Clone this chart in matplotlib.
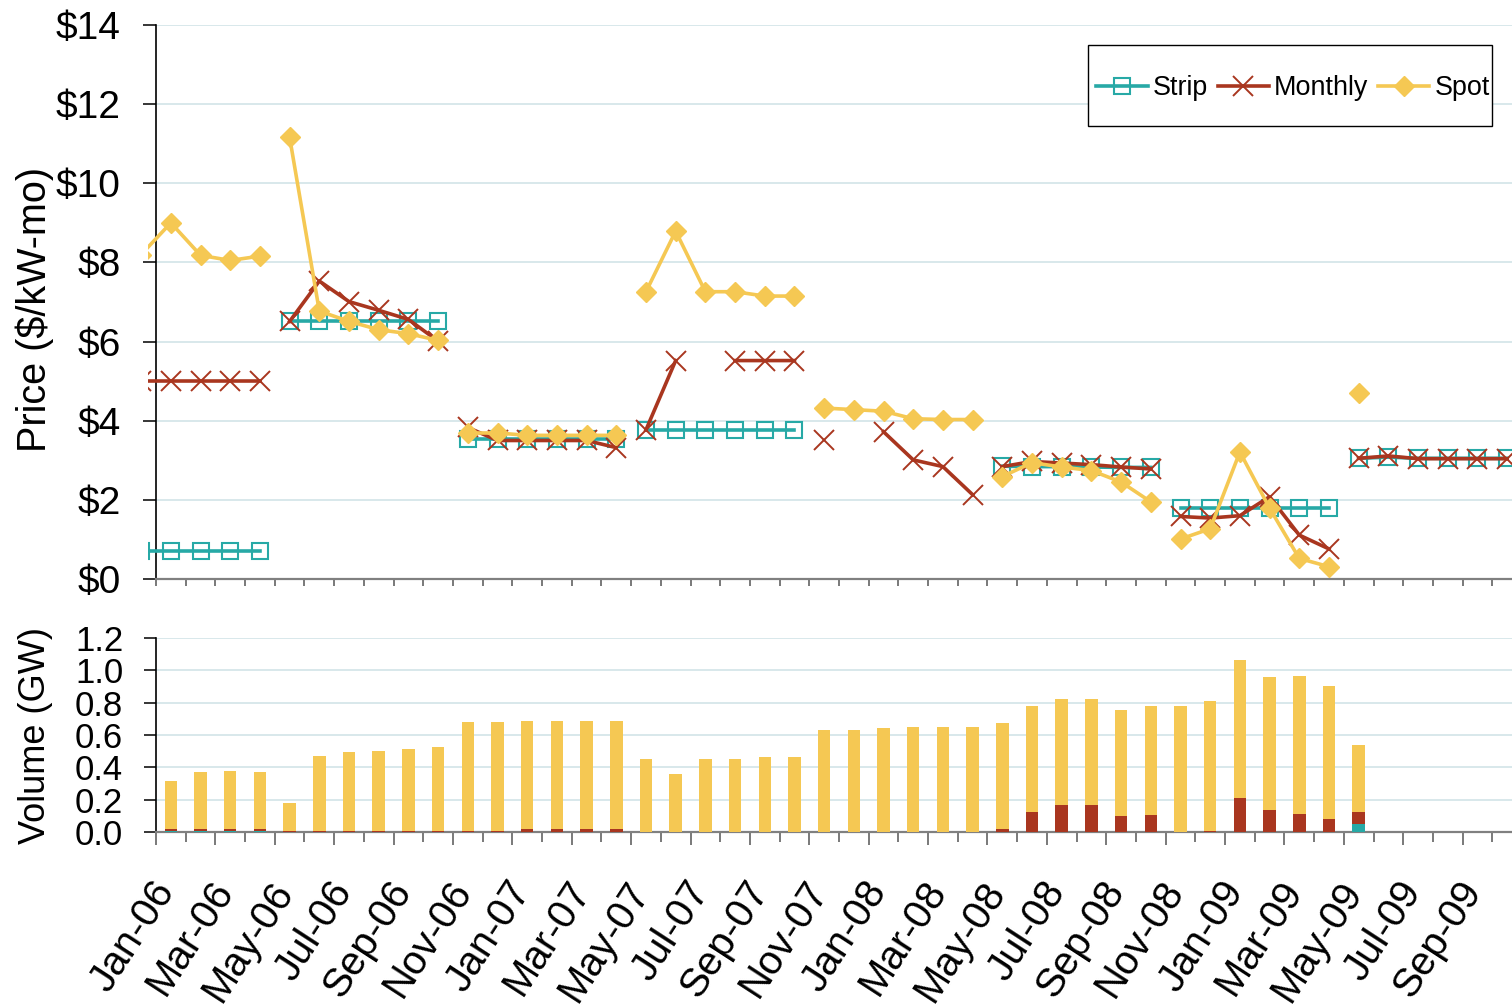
import numpy as np
import matplotlib
matplotlib.use('Agg')
import matplotlib.pyplot as plt
from matplotlib.patches import Rectangle
from matplotlib.transforms import ScaledTranslation
from matplotlib.ticker import StrMethodFormatter

plt.rcParams['font.family'] = ['Liberation Sans', 'DejaVu Sans']

# axis categories, Jan-06 .. Oct-09
months = ['Jan-06', 'Feb-06', 'Mar-06', 'Apr-06', 'May-06', 'Jun-06', 'Jul-06', 'Aug-06',
          'Sep-06', 'Oct-06', 'Nov-06', 'Dec-06', 'Jan-07', 'Feb-07', 'Mar-07', 'Apr-07',
          'May-07', 'Jun-07', 'Jul-07', 'Aug-07', 'Sep-07', 'Oct-07', 'Nov-07', 'Dec-07',
          'Jan-08', 'Feb-08', 'Mar-08', 'Apr-08', 'May-08', 'Jun-08', 'Jul-08', 'Aug-08',
          'Sep-08', 'Oct-08', 'Nov-08', 'Dec-08', 'Jan-09', 'Feb-09', 'Mar-09', 'Apr-09',
          'May-09', 'Jun-09', 'Jul-09', 'Aug-09', 'Sep-09', 'Oct-09']

# capability periods as (first, last) month index; -1 = Dec-05 (off the left edge)
periods = [(-1, 3), (4, 9), (10, 15), (16, 21), (22, 27), (28, 33), (34, 39), (40, 45)]

# prices, $/kW-mo, Dec-05 .. Oct-09 (None = no auction result)
strip_price = [0.71, 0.71, 0.71, 0.71, 0.71,
               6.51, 6.51, 6.51, 6.51, 6.51, 6.51,
               3.53, 3.53, 3.53, 3.53, 3.53, 3.53,
               3.77, 3.77, 3.77, 3.77, 3.77, 3.77,
               None, None, None, None, None, None,
               2.85, 2.84, 2.84, 2.83, 2.82, 2.82,
               1.80, 1.80, 1.80, 1.80, 1.80, 1.80,
               3.05, 3.08, 3.05, 3.05, 3.05, 3.05]
monthly_price = [5.0, 5.0, 5.0, 5.0, 5.0,
                 6.51, 7.53, 7.01, 6.79, 6.56, 6.01,
                 3.83, 3.50, 3.50, 3.50, 3.50, 3.32,
                 3.77, 5.52, None, 5.52, 5.52, 5.52,
                 3.50, None, 3.72, 3.01, 2.84, 2.13,
                 2.84, 2.97, 2.93, 2.89, 2.83, 2.78,
                 1.58, 1.54, 1.60, 2.08, 1.11, 0.76,
                 3.05, 3.11, 3.04, 3.04, 3.04, 3.04]
spot_price = [8.2, 9.0, 8.18, 8.05, 8.16,
              11.16, 6.77, 6.51, 6.30, 6.20, 6.03,
              3.69, 3.69, 3.63, 3.63, 3.63, 3.63,
              7.26, 8.79, 7.26, 7.26, 7.15, 7.15,
              4.32, 4.28, 4.24, 4.05, 4.03, 4.03,
              2.59, 2.94, 2.83, 2.74, 2.45, 1.95,
              1.01, 1.27, 3.21, 1.79, 0.52, 0.31,
              4.71, None, None, None, None, None]

# cleared volume, GW, Jan-06 .. Oct-09
strip_vol = [0.004, 0.004, 0.004, 0.004, 0, 0, 0, 0, 0, 0, 0, 0,
             0, 0, 0, 0, 0, 0, 0, 0, 0, 0, 0, 0,
             0, 0, 0, 0, 0, 0, 0, 0, 0, 0, 0, 0,
             0, 0, 0, 0, 0.05, 0, 0, 0, 0, 0]
monthly_vol = [0.016, 0.016, 0.016, 0.016, 0.005, 0.006, 0.006, 0.006, 0.006, 0.006, 0.006, 0.006,
               0.018, 0.018, 0.018, 0.018, 0, 0, 0, 0, 0, 0, 0, 0,
               0, 0.003, 0, 0, 0.02, 0.124, 0.167, 0.167, 0.10, 0.105, 0, 0.005,
               0.21, 0.136, 0.11, 0.08, 0.074, 0, 0, 0, 0, 0]
spot_vol = [0.295, 0.351, 0.357, 0.351, 0.175, 0.464, 0.489, 0.494, 0.507, 0.519, 0.674, 0.674,
            0.668, 0.668, 0.668, 0.668, 0.45, 0.36, 0.45, 0.45, 0.463, 0.463, 0.63, 0.63,
            0.643, 0.646, 0.649, 0.649, 0.654, 0.656, 0.655, 0.655, 0.655, 0.675, 0.78, 0.805,
            0.854, 0.824, 0.855, 0.825, 0.414, 0, 0, 0, 0, 0]

TEAL = '#27a9a6'
RED = '#a9361f'
YELLOW = '#f5c853'
GRID = '#d6e6e9'

W, H = 1512, 1005
fig = plt.figure(figsize=(W / 100, H / 100), dpi=100)
ax1 = fig.add_axes([156 / W, 1 - 579 / H, 1366 / W, 554 / H])
ax2 = fig.add_axes([156 / W, 1 - 832 / H, 1366 / W, 194 / H])

x_price = np.arange(-1, len(months))
series = [
    ('Strip', strip_price, dict(color=TEAL, marker='s', markersize=11, markerfacecolor='none',
                                markeredgecolor=TEAL, markeredgewidth=1.5)),
    ('Monthly', monthly_price, dict(color=RED, marker='x', markersize=14, markeredgewidth=1.4)),
    ('Spot', spot_price, dict(color=YELLOW, marker='D', markersize=10.5, markeredgecolor=YELLOW)),
]
clip = Rectangle((-8 / 1366, 0), 1 + 8 / 1366, 1, transform=ax1.transAxes)
for z, (name, vals, style) in enumerate(series):
    y = np.array([np.nan if v is None else v for v in vals], dtype=float)
    for k, (a, b) in enumerate(periods):
        sel = (x_price >= a) & (x_price <= b)
        line, = ax1.plot(x_price[sel], y[sel], linewidth=2.6, zorder=3 + z,
                         label=name if k == 0 else None, **style)
        line.set_clip_path(clip)

ax1.set_xlim(-0.5, len(months) - 0.5)
ax1.set_ylim(0, 14)
ax1.set_yticks(range(0, 15, 2))
ax1.yaxis.set_major_formatter(StrMethodFormatter('${x:.0f}'))
ax1.set_xticks(np.arange(-0.5, len(months), 1))
ax1.set_xticklabels([])
ax1.tick_params(axis='y', labelsize=28, length=9.5, width=1.1, pad=16, direction='out')
ax1.tick_params(axis='x', length=5, width=1.1, color='#555555', direction='out')
ax1.set_ylabel('Price ($/kW-mo)', fontsize=28.5)
ax1.yaxis.set_label_coords(-0.0745, 0.486)
ax1.grid(axis='y', color=GRID, linewidth=1.3)
ax1.set_axisbelow(True)

# legend box drawn separately (taller than matplotlib's uniform padding allows)
box = Rectangle((0.6823, 0.8177), 0.2958, 0.1462, transform=ax1.transAxes,
                facecolor='white', edgecolor='black', linewidth=1.0, zorder=6)
ax1.add_patch(box)
leg = ax1.legend(loc='center', bbox_to_anchor=(0.8325, 0.886), ncol=3, fontsize=19.4,
                 frameon=False, borderpad=0, handlelength=1.9, handletextpad=0.2,
                 columnspacing=0.35, borderaxespad=0)
leg.set_zorder(7)

# stacked volume bars
xv = np.arange(len(months))
bw = 0.42
ax2.bar(xv, strip_vol, bw, color=TEAL, zorder=3)
ax2.bar(xv, monthly_vol, bw, bottom=strip_vol, color=RED, zorder=3)
base = np.array(strip_vol) + np.array(monthly_vol)
ax2.bar(xv, spot_vol, bw, bottom=base, color=YELLOW, zorder=3)

ax2.set_xlim(-0.5, len(months) - 0.5)
ax2.set_ylim(0, 1.2)
ax2.set_yticks(np.arange(0, 1.21, 0.2))
ax2.yaxis.set_major_formatter(StrMethodFormatter('{x:.1f}'))
ax2.tick_params(axis='y', labelsize=25, length=8.6, width=1.1, pad=15, direction='out')
ax2.set_ylabel('Volume (GW)', fontsize=26)
ax2.yaxis.set_label_coords(-0.0754, 0.495)
ax2.grid(axis='y', color=GRID, linewidth=1.3)
ax2.set_axisbelow(True)

ax2.set_xticks(np.arange(-0.5, len(months), 2))
ax2.set_xticks(np.arange(0.5, len(months), 2), minor=True)
ax2.set_xticklabels(months[::2] + [''], rotation=57, ha='right', va='top',
                    rotation_mode='anchor', fontsize=29)
ax2.tick_params(axis='x', which='major', length=9.4, width=1.1, color='#555555', pad=21)
ax2.tick_params(axis='x', which='minor', length=7.2, width=1.1, color='#555555')
shift = ScaledTranslation(-0.06, 0, fig.dpi_scale_trans)
for lab in ax2.get_xticklabels():
    lab.set_transform(lab.get_transform() + shift)

for ax in (ax1, ax2):
    ax.spines['top'].set_visible(False)
    ax.spines['right'].set_visible(False)
    ax.spines['left'].set_linewidth(1.2)
    ax.spines['bottom'].set_color('#808080')
    ax.spines['bottom'].set_linewidth(1.6)

fig.savefig('out.png', dpi=100)
